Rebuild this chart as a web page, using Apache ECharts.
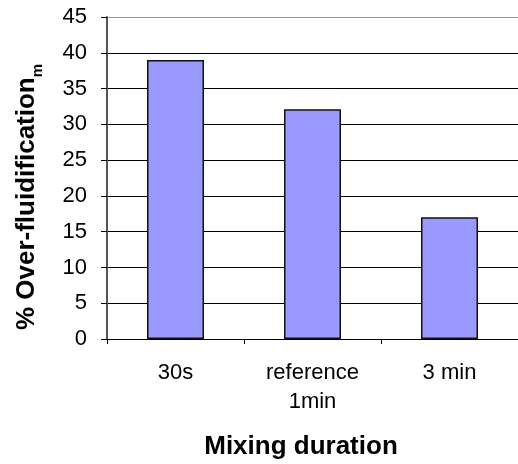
<!DOCTYPE html>
<html>
<head>
<meta charset="utf-8">
<script src="https://cdn.jsdelivr.net/npm/echarts@6/dist/echarts.min.js"></script>
<style>
html,body{margin:0;padding:0;background:#fff;}
#chart{width:518px;height:464px;}
</style>
</head>
<body>
<div id="chart"></div>
<script>
var categories = ['30s', 'reference\n1min', '3 min'];
var overFluidification = [39, 32.1, 17];
var yTicks = { min: 0, max: 45, interval: 5 };
var xTitle = 'Mixing duration';
var yTitleMain = '% Over-fluidification';
var yTitleSub = 'm';

var FONT = '"Liberation Sans", Arial, sans-serif';
var chart = echarts.init(document.getElementById('chart'), null, { renderer: 'canvas' });
var splitColors = ['#000','#000','#000','#000','#000','#000','#000','#000','#000','#999'];
chart.setOption({
  animation: false,
  backgroundColor: '#fff',
  grid: { left: 107, top: 17, right: -5, bottom: 125, containLabel: false },
  xAxis: {
    type: 'category',
    data: categories,
    axisLine: { show: true, lineStyle: { color: '#000', width: 1 } },
    axisTick: { show: true, length: 5, lineStyle: { color: '#000' } },
    axisLabel: { color: '#000', fontSize: 22, fontFamily: FONT, lineHeight: 29, margin: 19, interval: 0 },
    splitLine: { show: false }
  },
  yAxis: {
    type: 'value',
    min: yTicks.min, max: yTicks.max, interval: yTicks.interval,
    axisLine: { show: true, lineStyle: { color: '#555', width: 2 } },
    axisTick: { show: true, length: 6, lineStyle: { color: '#000' } },
    axisLabel: { color: '#000', fontSize: 22, fontFamily: FONT, margin: 20 },
    splitLine: { show: true, lineStyle: { color: splitColors, width: 1 } }
  },
  series: [{
    type: 'bar',
    data: overFluidification,
    barWidth: 57,
    itemStyle: { color: '#9999FF', borderColor: '#111', borderWidth: 1.5 }
  }],
  graphic: [
    {
      type: 'text',
      x: 301, y: 447,
      style: {
        text: xTitle,
        font: 'bold 26px ' + FONT,
        fill: '#000',
        align: 'center',
        verticalAlign: 'middle'
      }
    },
    {
      type: 'text',
      x: 27, y: 197,
      rotation: Math.PI / 2,
      style: {
        text: '{a|' + yTitleMain + '}{b|' + yTitleSub + '}',
        align: 'center',
        verticalAlign: 'middle',
        fill: '#000',
        rich: {
          a: { font: 'bold 26px ' + FONT, fill: '#000', lineHeight: 36, verticalAlign: 'middle' },
          b: { font: 'bold 15px ' + FONT, fill: '#000', lineHeight: 36, verticalAlign: 'bottom' }
        }
      }
    }
  ]
});
</script>
</body>
</html>
